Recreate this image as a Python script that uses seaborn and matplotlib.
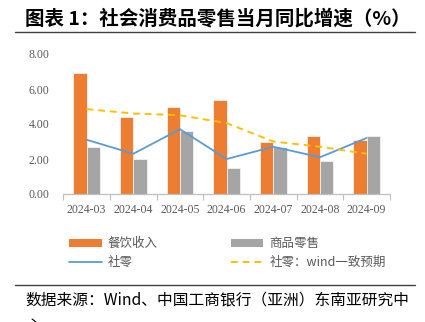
import numpy as np
import pandas as pd
import matplotlib
matplotlib.use("Agg")
import matplotlib.pyplot as plt
import seaborn as sns
from matplotlib.patches import Patch
from matplotlib.lines import Line2D

months = ["2024-03", "2024-04", "2024-05", "2024-06", "2024-07", "2024-08", "2024-09"]
catering = [6.9, 4.4, 5.0, 5.4, 3.0, 3.3, 3.1]
goods = [2.7, 2.0, 3.6, 1.5, 2.7, 1.9, 3.3]
retail = [3.1, 2.3, 3.7, 2.0, 2.7, 2.1, 3.2]
consensus = [4.85, 4.6, 4.5, 4.05, 3.0, 2.7, 2.3]
series_names = ["餐饮收入", "商品零售", "社零", "社零：wind一致预期"]
yticks = [0, 2, 4, 6, 8]

ORANGE = "#ED7D31"
GRAY = "#A5A5A5"
BLUE = "#5B9BD5"
YELLOW = "#FFC000"
TXT = "#595959"

sns.set_theme(style="white")
plt.rcParams["font.family"] = ["Noto Sans CJK SC", "DejaVu Sans"]

fig = plt.figure(figsize=(4.25, 3.22), dpi=100)
ax = fig.add_axes([63.3 / 425, 1 - 194 / 322, (390 - 63.3) / 425, (194 - 54) / 322])

df = pd.DataFrame({
    "month": months * 2,
    "value": catering + goods,
    "series": [series_names[0]] * len(months) + [series_names[1]] * len(months),
})
sns.barplot(data=df, x="month", y="value", hue="series", order=months,
            hue_order=series_names[:2], palette=[ORANGE, GRAY], width=0.57,
            edgecolor="#F2F2F2", linewidth=0.6, ax=ax, legend=False, saturation=1)

xs = np.arange(len(months))
sns.lineplot(x=xs, y=retail, color=BLUE, linewidth=1.3, ax=ax, legend=False)
sns.lineplot(x=xs, y=consensus, color=YELLOW, linewidth=1.4, ax=ax, legend=False)
ax.lines[-1].set_linestyle((0, (3.5, 2.5)))

ax.set_xlim(-0.5, len(months) - 0.5)
ax.set_ylim(0, 8)
ax.set_yticks(yticks)
ax.set_yticklabels([f"{v:.2f}" for v in yticks], family="Liberation Serif",
                   fontsize=8.5, color=TXT)
ax.set_xticks(xs)
ax.set_xticklabels(months, family="Liberation Serif", fontsize=8.5, color=TXT)
ax.set_xticks(np.arange(-0.5, len(months), 1.0), minor=True)
ax.tick_params(axis="x", which="major", length=0, pad=7)
ax.tick_params(axis="x", which="minor", length=4, color="#BFBFBF", width=0.8,
               direction="out", bottom=True)
ax.tick_params(axis="y", length=0, pad=10)
ax.set_xlabel("")
ax.set_ylabel("")
for s in ["top", "right", "left"]:
    ax.spines[s].set_visible(False)
ax.spines["bottom"].set_color("#BFBFBF")
ax.spines["bottom"].set_linewidth(0.9)

handles = [
    Patch(facecolor=ORANGE, edgecolor="none"),
    Line2D([0], [0], color=BLUE, linewidth=1.3),
    Patch(facecolor=GRAY, edgecolor="none"),
    Line2D([0], [0], color=YELLOW, linewidth=1.4, linestyle=(0, (3.5, 2.5))),
]
labels = [series_names[0], series_names[2], series_names[1], series_names[3]]
leg = fig.legend(handles, labels, ncol=2, loc="upper left",
                 bbox_to_anchor=(58 / 425, 1 - 226 / 322), frameon=False,
                 fontsize=9, handlelength=2.6, handletextpad=0.5,
                 columnspacing=5.8, labelspacing=0.45, labelcolor=TXT)

fig.text(25 / 425, 1 - 19 / 322, "图表 1：社会消费品零售当月同比增速（%）",
         fontsize=14, fontweight="bold", color="black", va="center", ha="left")
fig.add_artist(Line2D([15 / 425, 415 / 425], [1 - 32 / 322, 1 - 32 / 322],
                      color="#404040", linewidth=1.0))
fig.add_artist(Line2D([15 / 425, 415 / 425], [1 - 285 / 322, 1 - 285 / 322],
                      color="#404040", linewidth=1.0))
fig.text(25 / 425, 1 - 300 / 322, "数据来源：Wind、中国工商银行（亚洲）东南亚研究中",
         fontsize=11.3, style="italic", color="black", va="center", ha="left")
fig.text(25 / 425, 1 - 326 / 322, "心",
         fontsize=11.3, style="italic", color="black", va="center", ha="left")

fig.savefig("out.png", dpi=100, facecolor="white")
